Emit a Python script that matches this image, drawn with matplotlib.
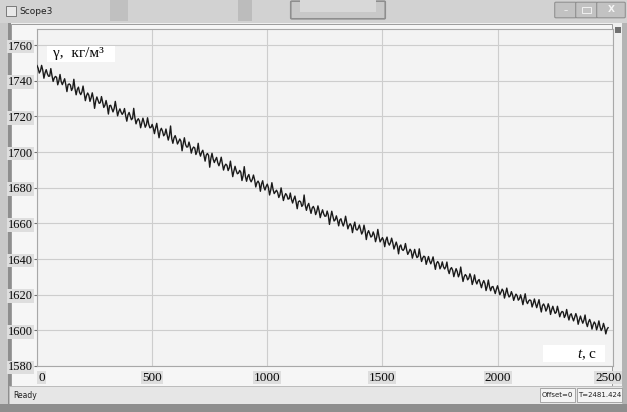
import numpy as np
import matplotlib.pyplot as plt
from matplotlib.patches import Rectangle, FancyBboxPatch
from matplotlib.transforms import ScaledTranslation

plt.rcParams["mathtext.fontset"] = "custom"
plt.rcParams["mathtext.it"] = "Liberation Serif:italic"
plt.rcParams["mathtext.rm"] = "Liberation Serif"

W, H = 627, 412          # output size in pixels
T_STEP = 10              # spacing of the main samples, s

# density trace: samples at 0, 10, ..., 2480 s
gamma_main = [
    1748.5, 1744.3, 1748.6, 1741.4, 1746.2, 1742.5, 1746.8, 1739.6, 1742.4, 1737.7,
    1743.5, 1737.8, 1741.1, 1733.9, 1738.2, 1734.5, 1740.8, 1732.1, 1736.4, 1732.2,
    1737.0, 1728.8, 1733.1, 1728.4, 1733.2, 1724.5, 1730.9, 1727.3, 1731.1, 1725.0,
    1728.9, 1721.3, 1726.2, 1722.5, 1728.4, 1720.3, 1724.2, 1721.1, 1724.4, 1717.3,
    1722.2, 1718.1, 1724.5, 1715.8, 1718.7, 1713.6, 1719.0, 1713.9, 1719.2, 1713.6,
    1715.5, 1710.3, 1716.1, 1708.0, 1713.3, 1709.1, 1712.9, 1706.7, 1714.6, 1704.9,
    1709.2, 1704.5, 1707.3, 1700.7, 1708.0, 1702.8, 1705.6, 1699.4, 1702.8, 1698.6,
    1704.9, 1697.7, 1701.0, 1694.9, 1699.2, 1691.5, 1699.3, 1694.1, 1697.0, 1692.3,
    1697.1, 1689.9, 1693.2, 1689.6, 1694.9, 1686.2, 1692.0, 1687.8, 1689.7, 1684.0,
    1691.8, 1683.6, 1687.4, 1683.3, 1687.1, 1680.4, 1683.7, 1678.0, 1683.9, 1678.7,
    1682.0, 1675.9, 1682.8, 1676.7, 1678.6, 1674.5, 1679.9, 1672.8, 1676.7, 1673.6,
    1677.0, 1671.4, 1675.3, 1668.2, 1672.6, 1669.5, 1675.9, 1667.3, 1671.2, 1665.6,
    1669.5, 1664.9, 1669.8, 1663.2, 1667.6, 1664.0, 1666.9, 1659.4, 1666.8, 1661.3,
    1664.2, 1658.6, 1662.6, 1658.5, 1664.0, 1656.9, 1659.8, 1654.8, 1660.7, 1656.2,
    1659.1, 1654.0, 1659.0, 1650.9, 1655.9, 1652.3, 1655.2, 1649.7, 1656.6, 1649.6,
    1652.0, 1646.9, 1652.3, 1647.8, 1651.7, 1645.6, 1649.5, 1642.9, 1647.9, 1644.8,
    1648.7, 1642.6, 1645.5, 1640.5, 1645.4, 1640.8, 1645.7, 1638.6, 1641.6, 1637.0,
    1641.4, 1637.3, 1641.2, 1634.2, 1638.6, 1634.5, 1638.4, 1634.4, 1638.3, 1631.8,
    1635.2, 1630.1, 1634.6, 1630.0, 1635.5, 1627.4, 1631.3, 1628.3, 1631.7, 1625.7,
    1631.1, 1626.0, 1628.5, 1623.9, 1627.9, 1622.3, 1628.2, 1622.2, 1624.6, 1620.6,
    1625.0, 1620.0, 1623.1, 1618.1, 1623.7, 1618.7, 1621.7, 1616.8, 1620.3, 1616.9,
    1619.9, 1614.4, 1620.5, 1615.0, 1617.1, 1613.1, 1617.6, 1612.7, 1617.2, 1610.3,
    1614.8, 1610.8, 1614.9, 1608.9, 1613.5, 1609.5, 1613.5, 1607.6, 1610.6, 1607.2,
    1611.7, 1605.8, 1609.3, 1605.3, 1609.4, 1603.4, 1608.0, 1604.0, 1608.6, 1602.1,
    1606.1, 1600.7, 1604.7, 1600.3, 1605.3, 1599.9, 1603.9, 1598.0, 1601.5,
]
# samples in between, at 5, 15, ..., 2475 s (close to the dark core of the trace)
gamma_mid = [
    1747.0, 1745.5, 1745.9, 1744.4, 1743.9, 1742.6, 1742.9, 1741.5, 1741.9, 1739.9,
    1739.5, 1739.5, 1737.8, 1737.8, 1737.6, 1735.9, 1735.5, 1735.2, 1733.4, 1733.7,
    1733.0, 1731.6, 1731.9, 1730.4, 1729.9, 1728.6, 1729.0, 1727.7, 1728.1, 1726.2,
    1725.9, 1726.0, 1724.4, 1724.4, 1724.3, 1722.7, 1722.4, 1722.2, 1720.4, 1720.8,
    1720.2, 1718.9, 1719.3, 1717.8, 1717.4, 1716.2, 1716.6, 1715.3, 1715.7, 1713.8,
    1713.5, 1713.5, 1711.8, 1711.9, 1711.7, 1710.0, 1709.6, 1709.3, 1707.6, 1707.9,
    1707.2, 1705.8, 1706.1, 1704.7, 1704.2, 1702.9, 1703.2, 1701.8, 1702.3, 1700.3,
    1699.9, 1699.9, 1698.2, 1698.3, 1698.1, 1696.4, 1696.0, 1695.7, 1694.0, 1694.3,
    1693.6, 1692.2, 1692.5, 1691.1, 1690.6, 1689.3, 1689.6, 1688.2, 1688.7, 1686.7,
    1686.3, 1686.3, 1684.6, 1684.7, 1684.5, 1682.8, 1682.4, 1682.1, 1680.4, 1680.7,
    1680.0, 1678.7, 1679.1, 1677.7, 1677.3, 1676.1, 1676.5, 1675.2, 1675.7, 1673.8,
    1673.5, 1673.6, 1672.0, 1672.1, 1672.0, 1670.4, 1670.1, 1669.9, 1668.2, 1668.6,
    1668.0, 1666.7, 1667.1, 1665.7, 1665.3, 1664.1, 1664.6, 1663.3, 1663.9, 1662.0,
    1661.7, 1661.9, 1660.3, 1660.5, 1660.4, 1658.8, 1658.6, 1658.4, 1656.8, 1657.2,
    1656.6, 1655.4, 1655.8, 1654.5, 1654.1, 1652.9, 1653.4, 1652.1, 1652.7, 1650.8,
    1650.5, 1650.6, 1649.1, 1649.2, 1649.1, 1647.5, 1647.2, 1647.1, 1645.4, 1645.8,
    1645.2, 1643.9, 1644.4, 1643.0, 1642.6, 1641.4, 1641.8, 1640.6, 1641.1, 1639.2,
    1638.9, 1639.0, 1637.5, 1637.6, 1637.5, 1635.9, 1635.7, 1635.5, 1633.9, 1634.3,
    1633.7, 1632.5, 1632.9, 1631.6, 1631.2, 1630.0, 1630.5, 1629.2, 1629.8, 1627.9,
    1627.6, 1627.8, 1626.2, 1626.4, 1626.3, 1624.7, 1624.5, 1624.3, 1622.7, 1623.1,
    1622.6, 1621.4, 1622.0, 1620.7, 1620.5, 1619.4, 1619.9, 1618.8, 1619.4, 1617.7,
    1617.5, 1617.7, 1616.3, 1616.5, 1616.6, 1615.1, 1614.9, 1614.9, 1613.3, 1613.9,
    1613.4, 1612.2, 1612.8, 1611.5, 1611.3, 1610.2, 1610.7, 1609.6, 1610.2, 1608.5,
    1608.3, 1608.6, 1607.1, 1607.3, 1607.4, 1605.9, 1605.8, 1605.7, 1604.2, 1604.7,
    1604.2, 1603.1, 1603.6, 1602.4, 1602.1, 1601.1, 1601.6, 1600.5,
]

x_ticks = [0, 500, 1000, 1500, 2000, 2500]
y_ticks = [1580, 1600, 1620, 1640, 1660, 1680, 1700, 1720, 1740, 1760]
window_title = "Scope3"
status_left = "Ready"
status_offset = "Offset=0"
status_time = "T=2481.424"

SERIF = ["Liberation Serif", "DejaVu Serif"]

# merge both sample sets into one time-ordered trace
t_main = np.arange(len(gamma_main)) * T_STEP
t_mid = t_main[:len(gamma_mid)] + T_STEP / 2
t = np.concatenate([t_main, t_mid])
gamma = np.concatenate([gamma_main, gamma_mid])
order = np.argsort(t)
t, gamma = t[order], gamma[order]


def fx(x):  # pixel -> figure fraction
    return x / W


def fy(y):
    return 1 - y / H


def box(x0, y0, x1, y1, fc, ec="none", lw=0.8, z=-2):
    fig.patches.append(Rectangle((fx(x0), fy(y1)), fx(x1) - fx(x0), fy(y0) - fy(y1),
                                 transform=fig.transFigure, facecolor=fc,
                                 edgecolor=ec, lw=lw, zorder=z))


def rbox(x0, y0, x1, y1, fc, ec, lw=0.8):
    fig.patches.append(FancyBboxPatch((fx(x0), fy(y1)), fx(x1) - fx(x0), fy(y0) - fy(y1),
                                      boxstyle="round,pad=0.002", transform=fig.transFigure,
                                      facecolor=fc, edgecolor=ec, lw=lw, zorder=-1))


fig = plt.figure(figsize=(W / 100, H / 100), dpi=100)
fig.patch.set_facecolor("#efefef")

# ---- window chrome ----
box(0, 0, W, 23, "#d2d2d2")
box(110, 0, 128, 21, "#c0c0c0")
box(238, 0, 252, 21, "#bcbcbc")
rbox(292, 2, 384, 18, "#c8c8c8", "#8e8e8e", lw=1.2)
box(300, 0, 376, 12, "#d8d8d8", z=-1)
box(6, 6, 16, 16, "#e8e8e8", ec="#6a6a6a", lw=0.6)
fig.text(fx(19), fy(11.5), window_title, fontsize=6.5, va="center", color="#202020")
for x0, x1 in [(556, 575), (577, 596), (598, 624)]:
    rbox(x0, 3, x1, 17, "#c2c2c2", "#8a8a8a", lw=0.7)
fig.text(fx(565.5), fy(10.5), "–", fontsize=6, ha="center", va="center", color="#f5f5f5")
box(582, 7, 591, 13, "none", ec="#f0f0f0", lw=0.7, z=0)
fig.text(fx(611), fy(10), "X", fontsize=6.5, ha="center", va="center", color="#f5f5f5",
         fontweight="bold")

box(0, 23, 9, H, "#c8c8c8")
box(8, 23, 11, H, "#8e8e8e")
box(622, 23, W, H, "#b4b4b4")
box(11, 24, 612, 386, "#f6f6f6", ec="#9c9c9c", lw=0.7)
box(615, 27, 621, 33, "#707070", z=-1)

# status bar
box(9, 386, 622, 404, "#e6e6e6", ec="#bdbdbd", lw=0.6)
box(0, 404, W, H, "#8e8e8e")
fig.text(fx(13), fy(395), status_left, fontsize=5.5, va="center", color="#202020")
box(540, 388, 575, 402, "#f4f4f4", ec="#9a9a9a", lw=0.6, z=-1)
box(577, 388, 622, 402, "#f4f4f4", ec="#9a9a9a", lw=0.6, z=-1)
fig.text(fx(557.5), fy(395), status_offset, fontsize=5, ha="center", va="center",
         color="#202020")
fig.text(fx(599.5), fy(395), status_time, fontsize=5, ha="center", va="center",
         color="#202020")

# ---- scope axes ----
ax = fig.add_axes([fx(37), fy(366), fx(612.7) - fx(37), fy(29) - fy(366)])
ax.set_zorder(2)
ax.set_facecolor("#f3f3f3")
ax.plot(t, gamma, color="#1a1a1a", lw=1.0, zorder=3)

ax.set_xlim(0, 2500)
ax.set_ylim(1580, 1769)
ax.set_xticks(x_ticks)
ax.set_yticks(y_ticks)
ax.grid(True, color="#cdcdcd", lw=0.8)
ax.set_axisbelow(True)
for s in ax.spines.values():
    s.set_color("#a8a8a8")
    s.set_linewidth(0.8)
ax.tick_params(axis="y", length=2.5, pad=0.5, color="#707070", labelsize=9)
ax.tick_params(axis="x", length=0, pad=4, labelsize=9.5)
for lab in ax.get_yticklabels() + ax.get_xticklabels():
    lab.set_family(SERIF)
    lab.set_color("#0a0a0a")
    lab.set_bbox(dict(facecolor="#dedede", edgecolor="none", pad=0.6))
xl = ax.get_xticklabels()
xl[0].set_transform(xl[0].get_transform() + ScaledTranslation(4.5 / 100, 0, fig.dpi_scale_trans))
xl[-1].set_transform(xl[-1].get_transform() + ScaledTranslation(-4.5 / 100, 0, fig.dpi_scale_trans))

# axis captions in white boxes
ax.add_patch(Rectangle((0.017, 0.902), 0.118, 0.048, transform=ax.transAxes,
                       facecolor="white", edgecolor="none", zorder=4))
ax.text(0.028, 0.928, "γ,  кг/м³", transform=ax.transAxes, family=SERIF, fontsize=11,
        va="center", ha="left", color="#0a0a0a", zorder=5)
ax.add_patch(Rectangle((0.879, 0.012), 0.108, 0.05, transform=ax.transAxes,
                       facecolor="white", edgecolor="none", zorder=4))
ax.text(0.973, 0.035, r"$t$, с", transform=ax.transAxes, family=SERIF,
        fontsize=11, ha="right", va="center", color="#0a0a0a", zorder=5)

fig.savefig("out.png", dpi=100, facecolor=fig.get_facecolor())
